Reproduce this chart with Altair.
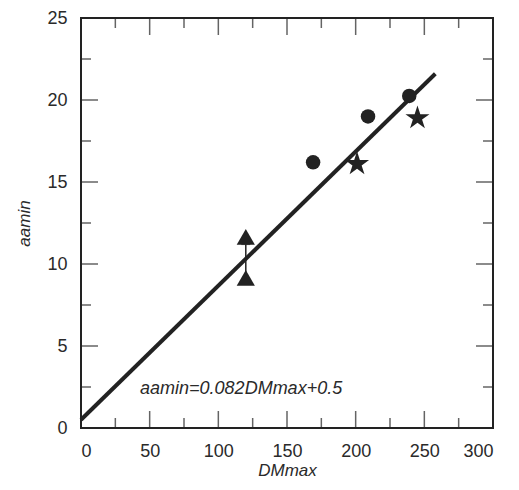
import altair as alt
import pandas as pd

# data
circle_x = [169, 209, 239]
circle_y = [16.2, 19.0, 20.25]
star_x = [201, 245]
star_y = [16.1, 18.9]
tri_x = [120, 120]
tri_y = [11.65, 9.15]
err_x = [120]
err_lo = [9.5]
err_hi = [11.2]
fit_x = [0, 258]
fit_y = [0.5, 21.6]
xmaj = [50, 100, 150, 200, 250]
xmin_ = [25, 75, 125, 175, 225, 275]
ymaj = [5, 10, 15, 20]
ymin_ = [2.5, 7.5, 12.5, 17.5, 22.5]
x_labels = [0, 50, 100, 150, 200, 250, 300]
y_labels = [0, 5, 10, 15, 20, 25]
equation = "aamin=0.082DMmax+0.5"
eq_pos = [43, 2.4]

W, H = 412, 410
FONT = "Liberation Sans"
INK = "#222222"
TXT = "#2a2a2a"
STAR = ("M0,-1L0.2245,-0.309L0.9511,-0.309L0.3633,0.118L0.5878,0.809L0,0.382"
        "L-0.5878,0.809L-0.3633,0.118L-0.9511,-0.309L-0.2245,-0.309Z")

xs = alt.Scale(domain=[0, 300], nice=False, zero=False)
ys = alt.Scale(domain=[0, 25], nice=False, zero=False)

xaxis = alt.Axis(values=x_labels, title="DMmax", ticks=False,
                 domain=False, grid=False, labelFont=FONT, labelFontSize=18,
                 labelColor=TXT, labelPadding=14, titleFont=FONT,
                 titleFontSize=17, titleFontStyle="italic", titleFontWeight="normal",
                 titleColor=TXT, titlePadding=2)
yaxis = alt.Axis(values=y_labels, title="aamin", ticks=False,
                 domain=False, grid=False, labelFont=FONT, labelFontSize=18,
                 labelColor=TXT, labelPadding=14, titleFont=FONT,
                 titleFontSize=17, titleFontStyle="italic", titleFontWeight="normal",
                 titleColor=TXT, titlePadding=13)

fit = pd.DataFrame({"x": fit_x, "y": fit_y})
base_line = alt.Chart(fit).mark_line(color=INK, strokeWidth=4).encode(
    x=alt.X("x:Q", scale=xs, axis=xaxis),
    y=alt.Y("y:Q", scale=ys, axis=yaxis),
)

def xticks(vals, edge, length):
    df = pd.DataFrame({"v": vals, "e": [edge] * len(vals)})
    return alt.Chart(df).mark_tick(color=INK, thickness=1.5, size=2 * length,
                                   orient="vertical", clip=True).encode(
        x=alt.X("v:Q", scale=xs), y=alt.Y("e:Q", scale=ys))

def yticks(vals, edge, length):
    df = pd.DataFrame({"v": vals, "e": [edge] * len(vals)})
    return alt.Chart(df).mark_tick(color=INK, thickness=1.5, size=2 * length,
                                   orient="horizontal", clip=True).encode(
        y=alt.Y("v:Q", scale=ys), x=alt.X("e:Q", scale=xs))

ticks = [
    xticks(xmaj, 0, 17), xticks(xmin_, 0, 10),
    xticks(xmaj, 25, 17), xticks(xmin_, 25, 10),
    yticks(ymaj, 0, 17), yticks(ymin_, 0, 10),
    yticks(ymaj, 300, 17), yticks(ymin_, 300, 10),
]

err = pd.DataFrame({"x": err_x, "lo": err_lo, "hi": err_hi})
errbar = alt.Chart(err).mark_rule(color=INK, strokeWidth=1.5).encode(
    x=alt.X("x:Q", scale=xs), y=alt.Y("lo:Q", scale=ys), y2="hi:Q")
errcap = alt.Chart(err).mark_tick(color=INK, thickness=1.5, size=9, orient="horizontal").encode(
    x=alt.X("x:Q", scale=xs), y=alt.Y("hi:Q", scale=ys))

def points(xv, yv, shape, size):
    df = pd.DataFrame({"x": xv, "y": yv})
    return alt.Chart(df).mark_point(shape=shape, filled=True, color=INK, opacity=1,
                                    size=size, strokeWidth=0).encode(
        x=alt.X("x:Q", scale=xs), y=alt.Y("y:Q", scale=ys))

pts_t = points(tri_x, tri_y, "triangle-up", 330)
pts_c = points(circle_x, circle_y, "circle", 210)
pts_s = points(star_x, star_y, STAR, 640)

eq_df = pd.DataFrame({"x": [eq_pos[0]], "y": [eq_pos[1]], "t": [equation]})
eq = alt.Chart(eq_df).mark_text(
    font=FONT, fontSize=18, fontStyle="italic", color=TXT, align="left", baseline="middle"
).encode(x=alt.X("x:Q", scale=xs), y=alt.Y("y:Q", scale=ys), text="t:N")

chart = alt.layer(base_line, *ticks, errbar, errcap, pts_t, pts_c, pts_s, eq).properties(
    width=W, height=H,
    autosize=alt.AutoSizeParams(type="none"),
    padding={"left": 73, "top": 10, "right": 18, "bottom": 54},
    background="white",
).configure_view(stroke=INK, strokeWidth=2)

chart.save("out.html", embed_options={"renderer": "svg", "actions": False})
